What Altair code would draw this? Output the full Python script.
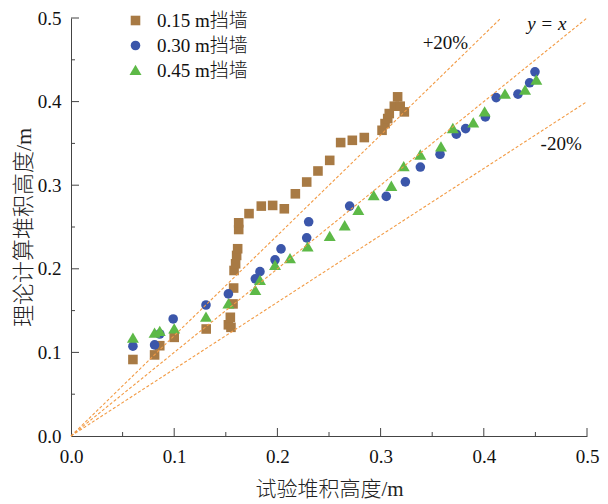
import altair as alt
import pandas as pd

# ---- data ----
series_names = ["0.15 m挡墙", "0.30 m挡墙", "0.45 m挡墙"]

x15 = [0.060, 0.081, 0.086, 0.100, 0.131, 0.1525, 0.155, 0.1544, 0.157, 0.1576,
       0.158, 0.1595, 0.1605, 0.1615, 0.1625, 0.1625, 0.1725, 0.1844, 0.1954, 0.2067,
       0.2174, 0.2284, 0.2393, 0.2507, 0.2613, 0.2726, 0.2842, 0.3014, 0.3043, 0.3069,
       0.3084, 0.3133, 0.3165, 0.319, 0.323]
y15 = [0.0915, 0.097, 0.108, 0.118, 0.128, 0.133, 0.130, 0.142, 0.158, 0.177,
       0.198, 0.206, 0.216, 0.224, 0.247, 0.255, 0.266, 0.275, 0.2758, 0.2718,
       0.2897, 0.3038, 0.317, 0.3297, 0.351, 0.3537, 0.357, 0.3657, 0.3737, 0.3797,
       0.3857, 0.3945, 0.4057, 0.3945, 0.3877]

x30 = [0.060, 0.081, 0.086, 0.099, 0.1308, 0.1525, 0.1786, 0.1831, 0.1977, 0.2035,
       0.2284, 0.2303, 0.270, 0.3055, 0.324, 0.3385, 0.3576, 0.3734, 0.3824, 0.4015,
       0.412, 0.4331, 0.4444, 0.4496]
y30 = [0.1075, 0.109, 0.122, 0.140, 0.1567, 0.170, 0.188, 0.1966, 0.2107, 0.2238,
       0.237, 0.2562, 0.275, 0.2866, 0.304, 0.3217, 0.337, 0.361, 0.3677, 0.3817,
       0.4048, 0.4089, 0.4225, 0.4356]

x45 = [0.060, 0.081, 0.086, 0.100, 0.1308, 0.1525, 0.1786, 0.1831, 0.1977, 0.2122,
       0.2293, 0.2507, 0.2652, 0.2784, 0.2933, 0.3104, 0.3224, 0.3385, 0.3585, 0.370,
       0.3898, 0.4008, 0.4205, 0.440, 0.4509]
y45 = [0.117, 0.123, 0.125, 0.128, 0.142, 0.158, 0.174, 0.186, 0.204, 0.212,
       0.226, 0.2386, 0.2514, 0.2698, 0.2874, 0.2986, 0.322, 0.336, 0.3457, 0.3677,
       0.3745, 0.3877, 0.4089, 0.4137, 0.4257]

# reference lines y = k*x
ref_names = ["+20%", "y = x", "-20%"]
ref_x_end = [0.4167, 0.5, 0.5]
ref_y_end = [0.5, 0.5, 0.4]

# annotation labels
note_text = ["+20%", "-20%"]
note_x = [0.3628, 0.475]
note_y = [0.4705, 0.349]
yx_text = ["y = x"]
yx_x = [0.461]
yx_y = [0.493]

tick_major = [0.1, 0.2, 0.3, 0.4, 0.5]
tick_minor = [0.05, 0.15, 0.25, 0.35, 0.45]
axis_values = [0.0, 0.1, 0.2, 0.3, 0.4, 0.5]

# ---- tables ----
rows = []
for name, xs, ys in zip(series_names, [x15, x30, x45], [y15, y30, y45]):
    for a, b in zip(xs, ys):
        rows.append({"s": name, "x": a, "y": b})
pts = pd.DataFrame(rows)

ref_rows = []
for n, xe, ye in zip(ref_names, ref_x_end, ref_y_end):
    ref_rows.append({"line": n, "x": 0.0, "y": 0.0})
    ref_rows.append({"line": n, "x": xe, "y": ye})
refs = pd.DataFrame(ref_rows)

notes = pd.DataFrame({"t": note_text, "x": note_x, "y": note_y})
yxn = pd.DataFrame({"t": yx_text, "x": yx_x, "y": yx_y})
tmaj = pd.DataFrame({"v": tick_major})
tmin = pd.DataFrame({"v": tick_minor})

SERIF = "Liberation Serif, Noto Sans CJK SC"
W, H = 516, 418

xs = alt.Scale(domain=[0, 0.5], nice=False, zero=False)
ys = alt.Scale(domain=[0, 0.5], nice=False, zero=False)

xaxis = alt.Axis(values=axis_values, format=".1f", title="试验堆积高度/m",
                 labelFont="Liberation Serif", labelFontSize=19, labelColor="#111",
                 labelPadding=11, titleFont=SERIF, titleFontSize=21,
                 titleFontWeight=300, titleColor="#222", titlePadding=12,
                 ticks=False, grid=False, domainColor="#444", labelFlush=False)
yaxis = alt.Axis(values=axis_values, format=".1f", title="理论计算堆积高度/m",
                 labelFont="Liberation Serif", labelFontSize=19, labelColor="#111",
                 labelPadding=10, titleFont=SERIF, titleFontSize=22,
                 titleFontWeight=300, titleColor="#222", titlePadding=2,
                 ticks=False, grid=False, domainColor="#444", labelFlush=False)

TRI = "M0,-1.2L1.25,0.95L-1.25,0.95Z"

points = alt.Chart(pts).mark_point(filled=True, opacity=1, size=92).encode(
    x=alt.X("x:Q", scale=xs, axis=xaxis),
    y=alt.Y("y:Q", scale=ys, axis=yaxis),
    color=alt.Color("s:N", scale=alt.Scale(domain=series_names,
                    range=["#A87A44", "#3B56AA", "#5DB947"]),
                    legend=alt.Legend(title=None, orient="none", legendX=55, legendY=-7,
                                      labelFont=SERIF, labelFontSize=19, labelColor="#111",
                                      labelFontWeight=300, symbolSize=92,
                                      labelOffset=12, rowPadding=5, padding=0)),
    shape=alt.Shape("s:N", scale=alt.Scale(domain=series_names,
                    range=["square", "circle", TRI])),
)

lines = alt.Chart(refs).mark_line(color="#F29B45", strokeWidth=1.1,
                                  strokeDash=[3, 2]).encode(
    x=alt.X("x:Q", scale=xs), y=alt.Y("y:Q", scale=ys), detail="line:N")

txt = alt.Chart(notes).mark_text(font="Liberation Serif", fontSize=19,
                                 color="#111").encode(
    x=alt.X("x:Q", scale=xs), y=alt.Y("y:Q", scale=ys), text="t:N")
txt_yx = alt.Chart(yxn).mark_text(font="Liberation Serif", fontSize=19,
                                  fontStyle="italic", color="#111").encode(
    x=alt.X("x:Q", scale=xs), y=alt.Y("y:Q", scale=ys), text="t:N")

xt_maj = alt.Chart(tmaj).mark_rule(color="#444").encode(
    x=alt.X("v:Q", scale=xs), y=alt.value(H), y2=alt.value(H - 8))
xt_min = alt.Chart(tmin).mark_rule(color="#444").encode(
    x=alt.X("v:Q", scale=xs), y=alt.value(H), y2=alt.value(H - 4))
yt_maj = alt.Chart(tmaj).mark_rule(color="#444").encode(
    y=alt.Y("v:Q", scale=ys), x=alt.value(0), x2=alt.value(8))
yt_min = alt.Chart(tmin).mark_rule(color="#444").encode(
    y=alt.Y("v:Q", scale=ys), x=alt.value(0), x2=alt.value(4))

chart = alt.layer(points, lines, txt, txt_yx, xt_maj, xt_min, yt_maj, yt_min).properties(
    width=W, height=H,
    padding={"left": 71, "top": 18, "right": 21, "bottom": 68},
    autosize=alt.AutoSizeParams(type="none"),
    background="white",
).configure_view(stroke=None)

chart.save("out.html", embed_options={"renderer": "svg", "actions": False})
